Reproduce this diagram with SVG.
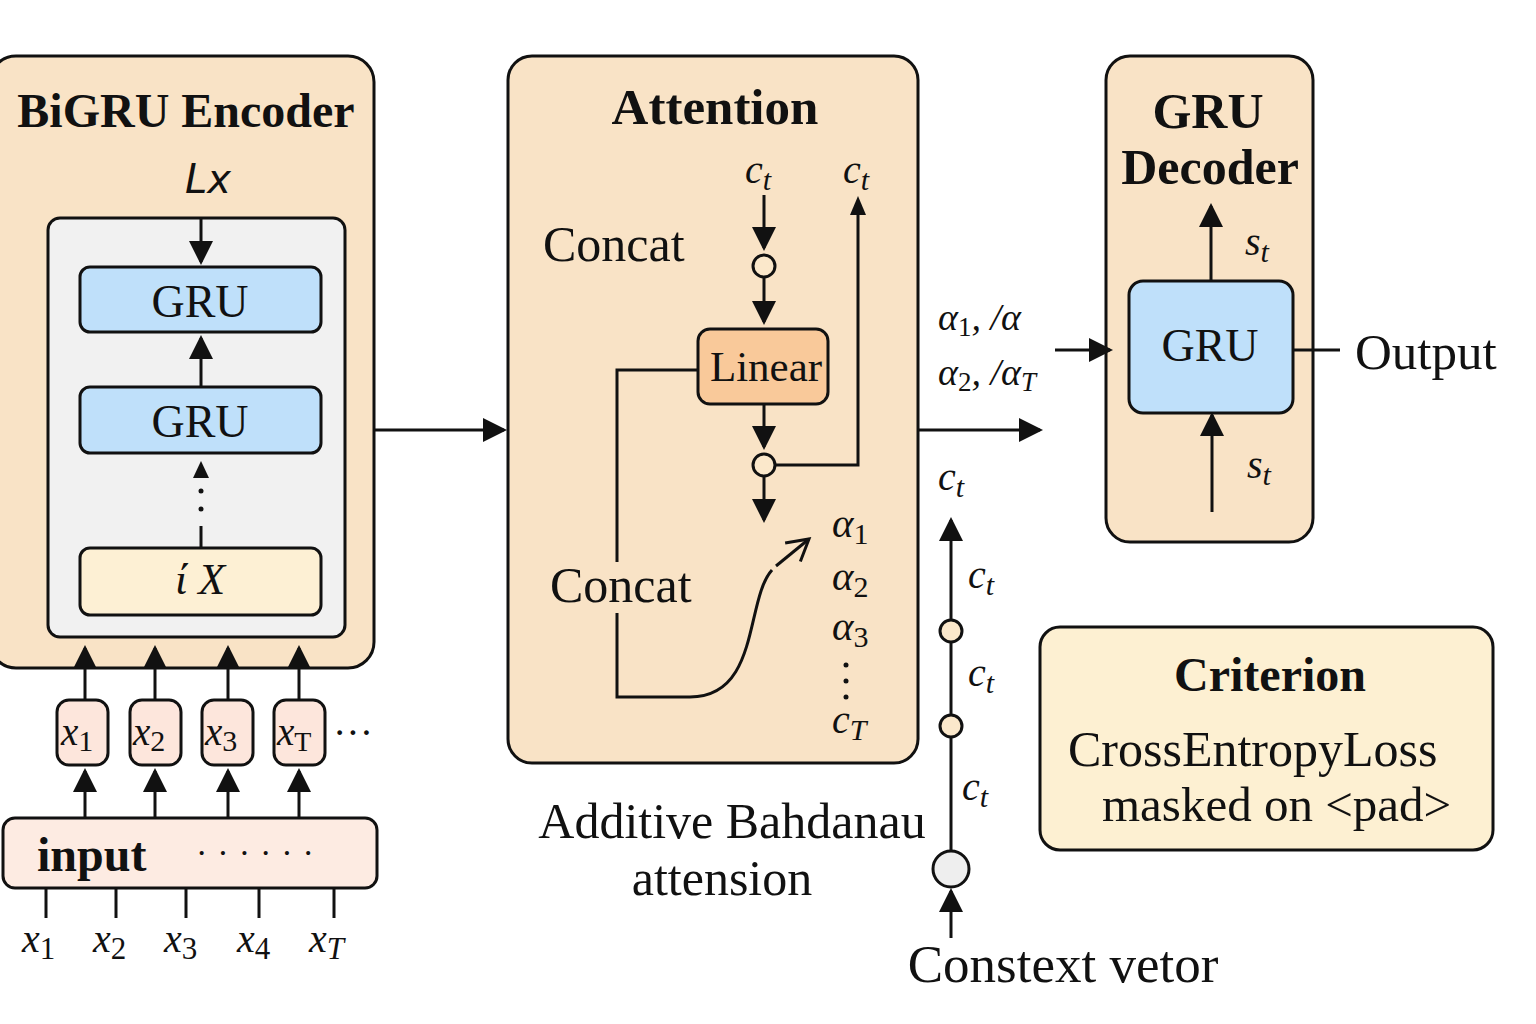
<svg xmlns="http://www.w3.org/2000/svg" width="1536" height="1024" viewBox="0 0 1536 1024">
<style>
.box{stroke:#111;stroke-width:3}
.peach{fill:#f9e3c6}
.blue{fill:#bfe0fa}
.serif{font-family:"Liberation Serif","DejaVu Serif",serif;fill:#111}
.b{font-weight:bold}
.it{font-style:italic}
.ln{stroke:#111;stroke-width:3;fill:none}
.arr{stroke:#111;stroke-width:3;fill:none;marker-end:url(#ah)}
</style>
<defs>
<marker id="ah" markerWidth="8" markerHeight="8" refX="7" refY="4" orient="auto" markerUnits="strokeWidth">
<path d="M0,0 L8,4 L0,8 Z" fill="#111"/>
</marker>
<marker id="oh" markerWidth="10" markerHeight="10" refX="8" refY="5" orient="auto" markerUnits="strokeWidth">
<path d="M1,1 L8,5 L1,9" fill="none" stroke="#111" stroke-width="1"/>
</marker>
</defs>
<rect width="1536" height="1024" fill="#fff"/>

<g id="encoder">
<rect class="box peach" x="-10" y="56" width="384" height="612" rx="26"/>
<text class="serif b" x="186" y="127" font-size="48" text-anchor="middle">BiGRU Encoder</text>
<text x="208" y="193" font-size="40" font-family="DejaVu Sans,sans-serif" font-style="italic" font-weight="300" text-anchor="middle" fill="#111">Lx</text>
<rect x="48" y="218" width="297" height="419" rx="12" fill="#f1f1f1" class="box"/>
</g>
<g id="gru1"><rect class="box blue" x="80" y="267" width="241" height="65" rx="10"/><text class="serif" x="200" y="317" font-size="46" text-anchor="middle">GRU</text></g>
<g id="gru2"><rect class="box blue" x="80" y="387" width="241" height="66" rx="10"/><text class="serif" x="200" y="437" font-size="46" text-anchor="middle">GRU</text></g>
<g id="ix"><rect class="box" x="80" y="548" width="241" height="67" rx="10" fill="#fdf0d4"/><text class="serif it" x="200" y="594" font-size="44" text-anchor="middle">ί X</text></g>

<g id="tok1"><rect class="box" x="57" y="700" width="51" height="65" rx="12" fill="#fde6dc"/><text class="serif it" x="61" y="745" font-size="39">x<tspan font-style="normal" font-size="30" dy="6">1</tspan></text></g>
<g id="tok2"><rect class="box" x="130" y="700" width="51" height="65" rx="12" fill="#fde6dc"/><text class="serif it" x="133" y="745" font-size="39">x<tspan font-style="normal" font-size="30" dy="6">2</tspan></text></g>
<g id="tok3"><rect class="box" x="202" y="700" width="51" height="65" rx="12" fill="#fde6dc"/><text class="serif it" x="205" y="745" font-size="39">x<tspan font-style="normal" font-size="30" dy="6">3</tspan></text></g>
<g id="tokT"><rect class="box" x="274" y="700" width="51" height="65" rx="12" fill="#fde6dc"/><text class="serif it" x="277" y="745" font-size="39">x<tspan font-style="normal" font-size="28" dy="6">T</tspan></text></g>
<text class="serif" x="333" y="746" font-size="40">···</text>

<g id="input">
<rect class="box" x="3" y="818" width="374" height="70" rx="12" fill="#fdebe2"/>
<text class="serif b" x="37" y="871" font-size="48">input</text>
<text class="serif" x="196" y="864" font-size="34" letter-spacing="10">······</text>
</g>
<g id="inlabels" class="serif it" font-size="40">
<text x="22" y="952">x<tspan font-style="normal" font-size="31" dy="7">1</tspan></text>
<text x="93" y="952">x<tspan font-style="normal" font-size="31" dy="7">2</tspan></text>
<text x="164" y="952">x<tspan font-style="normal" font-size="31" dy="7">3</tspan></text>
<text x="237" y="952">x<tspan font-style="normal" font-size="31" dy="7">4</tspan></text>
<text x="309" y="952">x<tspan font-size="31" dy="7">T</tspan></text>
</g>

<g id="attention">
<rect class="box peach" x="508" y="56" width="410" height="707" rx="24"/>
<text class="serif b" x="715" y="124" font-size="51" text-anchor="middle">Attention</text>
<text class="serif" x="543" y="261" font-size="50">Concat</text>
<text class="serif" x="550" y="602" font-size="50">Concat</text>
<text class="serif it" x="745" y="183" font-size="40">c<tspan font-size="30" dy="7">t</tspan></text>
<text class="serif it" x="843" y="183" font-size="40">c<tspan font-size="30" dy="7">t</tspan></text>
<text class="serif it" x="832" y="537" font-size="41">α<tspan font-style="normal" font-size="30" dy="7">1</tspan></text>
<text class="serif it" x="832" y="590" font-size="41">α<tspan font-style="normal" font-size="30" dy="7">2</tspan></text>
<text class="serif it" x="832" y="640" font-size="41">α<tspan font-style="normal" font-size="30" dy="7">3</tspan></text>
<circle cx="846" cy="665" r="2.5" fill="#111"/><circle cx="846" cy="681" r="2.5" fill="#111"/><circle cx="846" cy="697" r="2.5" fill="#111"/>
<text class="serif it" x="832" y="733" font-size="40">c<tspan font-size="30" dy="7">T</tspan></text>
</g>
<g id="linear"><rect class="box" x="698" y="329" width="130" height="75" rx="12" fill="#f9c99a"/><text class="serif" x="766" y="381" font-size="43" text-anchor="middle">Linear</text></g>
<g id="node-c1"><circle class="box" cx="764" cy="266" r="11" fill="#fbe8cb"/></g>
<g id="node-c2"><circle class="box" cx="764" cy="465" r="11" fill="#fbe8cb"/></g>

<g id="labels-mid" class="serif">
<text class="it" x="938" y="330" font-size="38">α<tspan font-style="normal" font-size="27" dy="6">1</tspan><tspan dy="-6">, /α</tspan></text>
<text class="it" x="938" y="385" font-size="38">α<tspan font-style="normal" font-size="27" dy="6">2</tspan><tspan dy="-6">, /α</tspan><tspan font-size="27" dy="6">T</tspan></text>
<text class="it" x="938" y="490" font-size="40">c<tspan font-size="30" dy="7">t</tspan></text>
<text class="it" x="968" y="588" font-size="40">c<tspan font-size="30" dy="7">t</tspan></text>
<text class="it" x="968" y="686" font-size="40">c<tspan font-size="30" dy="7">t</tspan></text>
<text class="it" x="962" y="800" font-size="40">c<tspan font-size="30" dy="7">t</tspan></text>
<text x="732" y="838" font-size="50" text-anchor="middle">Additive Bahdanau</text>
<text x="722" y="895" font-size="50" text-anchor="middle">attension</text>
<text x="1063" y="982" font-size="53" text-anchor="middle">Constext vetor</text>
</g>

<g id="ctx-node1"><circle class="box" cx="951" cy="631" r="11" fill="#fbe8cb"/></g>
<g id="ctx-node2"><circle class="box" cx="951" cy="726" r="11" fill="#fbe8cb"/></g>
<g id="ctx-node3"><circle class="box" cx="951" cy="869" r="18" fill="#eeeeee"/></g>

<g id="decoder">
<rect class="box peach" x="1106" y="56" width="207" height="486" rx="24"/>
<text class="serif b" x="1208" y="128" font-size="50" text-anchor="middle">GRU</text>
<text class="serif b" x="1210" y="184" font-size="50" text-anchor="middle">Decoder</text>
<text class="serif it" x="1245" y="255" font-size="40">s<tspan font-size="30" dy="7">t</tspan></text>
<text class="serif it" x="1247" y="478" font-size="40">s<tspan font-size="30" dy="7">t</tspan></text>
</g>
<g id="dec-gru"><rect class="box blue" x="1129" y="281" width="164" height="132" rx="14"/><text class="serif" x="1210" y="361" font-size="46" text-anchor="middle">GRU</text></g>
<text id="output" class="serif" x="1355" y="369" font-size="51">Output</text>

<g id="criterion">
<rect class="box" x="1040" y="627" width="453" height="223" rx="20" fill="#fdf0d2"/>
<text class="serif b" x="1270" y="691" font-size="48" text-anchor="middle">Criterion</text>
<text class="serif" x="1068" y="766" font-size="50">CrossEntropyLoss</text>
<text class="serif" x="1102" y="821" font-size="49">masked on &lt;pad&gt;</text>
</g>

<g id="connectors">
<line class="arr" x1="201" y1="218" x2="201" y2="262"/>
<line class="arr" x1="201" y1="387" x2="201" y2="338"/>
<line class="ln" x1="201" y1="548" x2="201" y2="526"/>
<circle cx="201" cy="491" r="2.5" fill="#111"/><circle cx="201" cy="509" r="2.5" fill="#111"/>
<path d="M193,478 L201,461 L209,478 Z" fill="#111"/>
<line class="arr" x1="85" y1="700" x2="85" y2="648"/>
<line class="arr" x1="155" y1="700" x2="155" y2="648"/>
<line class="arr" x1="228" y1="700" x2="228" y2="648"/>
<line class="arr" x1="299" y1="700" x2="299" y2="648"/>
<line class="arr" x1="85" y1="818" x2="85" y2="771"/>
<line class="arr" x1="155" y1="818" x2="155" y2="771"/>
<line class="arr" x1="228" y1="818" x2="228" y2="771"/>
<line class="arr" x1="299" y1="818" x2="299" y2="771"/>
<line class="ln" x1="46" y1="888" x2="46" y2="918"/>
<line class="ln" x1="116" y1="888" x2="116" y2="918"/>
<line class="ln" x1="186" y1="888" x2="186" y2="918"/>
<line class="ln" x1="259" y1="888" x2="259" y2="918"/>
<line class="ln" x1="334" y1="888" x2="334" y2="918"/>
<line class="arr" x1="374" y1="430" x2="504" y2="430"/>
<line class="arr" x1="764" y1="195" x2="764" y2="248"/>
<line class="arr" x1="764" y1="277" x2="764" y2="322"/>
<line class="arr" x1="764" y1="404" x2="764" y2="447"/>
<line class="arr" x1="764" y1="476" x2="764" y2="520"/>
<polyline class="ln" points="775,465 858,465 858,205"/>
<path d="M850,215 L858,196 L866,215 Z" fill="#111"/>
<polyline class="ln" points="698,370 617,370 617,562"/>
<path class="ln" d="M617,613 L617,697 L690,697 C760,697 745,600 772,570"/>
<path class="ln" d="M776,566 L809,539" marker-end="url(#oh)"/>
<line class="arr" x1="918" y1="430" x2="1040" y2="430"/>
<line class="arr" x1="1055" y1="350" x2="1110" y2="350"/>
<line class="arr" x1="1211" y1="281" x2="1211" y2="206"/>
<line class="arr" x1="1212" y1="512" x2="1212" y2="415"/>
<line class="ln" x1="1293" y1="350" x2="1340" y2="350"/>
<line class="arr" x1="951" y1="620" x2="951" y2="520"/>
<line class="ln" x1="951" y1="642" x2="951" y2="715"/>
<line class="ln" x1="951" y1="737" x2="951" y2="851"/>
<line class="arr" x1="951" y1="938" x2="951" y2="891"/>
</g>
</svg>
